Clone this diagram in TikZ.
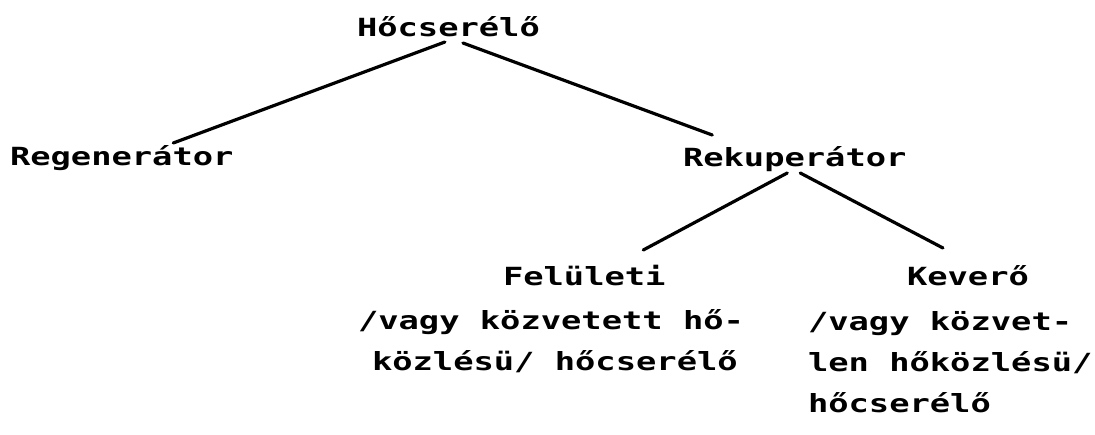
\documentclass[tikz,border=0pt]{standalone}
\usepackage{fontspec}
\newfontfamily\tw[FakeStretch=1.35]{DejaVu Sans Mono}
\usetikzlibrary{calc}
\begin{document}
\begin{tikzpicture}[x=1pt,y=-1pt,
  lbl/.style={inner sep=0pt,outer sep=0pt,anchor=base west,font=\tw\bfseries\fontsize{25}{41}\selectfont},
  link/.style={line width=3.2pt,line cap=round}]
\useasboundingbox (0,0) rectangle (1095,434);
\node[lbl] (hcs) at (357,36) {Hőcserélő};
\node[lbl] (reg) at (10,165) {Regenerátor};
\node[lbl] (rek) at (683,166) {Rekuperátor};
\node[lbl] (fel) at (503,285) {Felületi};
\node[lbl] (fel1) at (358,329) {/vagy közvetett hő-};
\node[lbl] (fel2) at (372,370) {közlésü/ hőcserélő};
\node[lbl] (kev) at (907,285) {Keverő};
\node[lbl] (kev1) at (808,330) {/vagy közvet-};
\node[lbl] (kev2) at (808,371) {len hőközlésü/};
\node[lbl] (kev3) at (808,412) {hőcserélő};
\draw[link] ($(hcs.base)+(-3.5,6)$) -- ($(reg.base)+(51.5,-22)$);
\draw[link] ($(hcs.base)+(14.5,7)$) -- ($(rek.base)+(-82.5,-31)$);
\draw[link] ($(rek.base)+(-7.5,7)$) -- ($(fel.base)+(59,-35)$);
\draw[link] ($(rek.base)+(5.5,7)$) -- ($(kev.base)+(-25,-37)$);
\end{tikzpicture}
\end{document}
